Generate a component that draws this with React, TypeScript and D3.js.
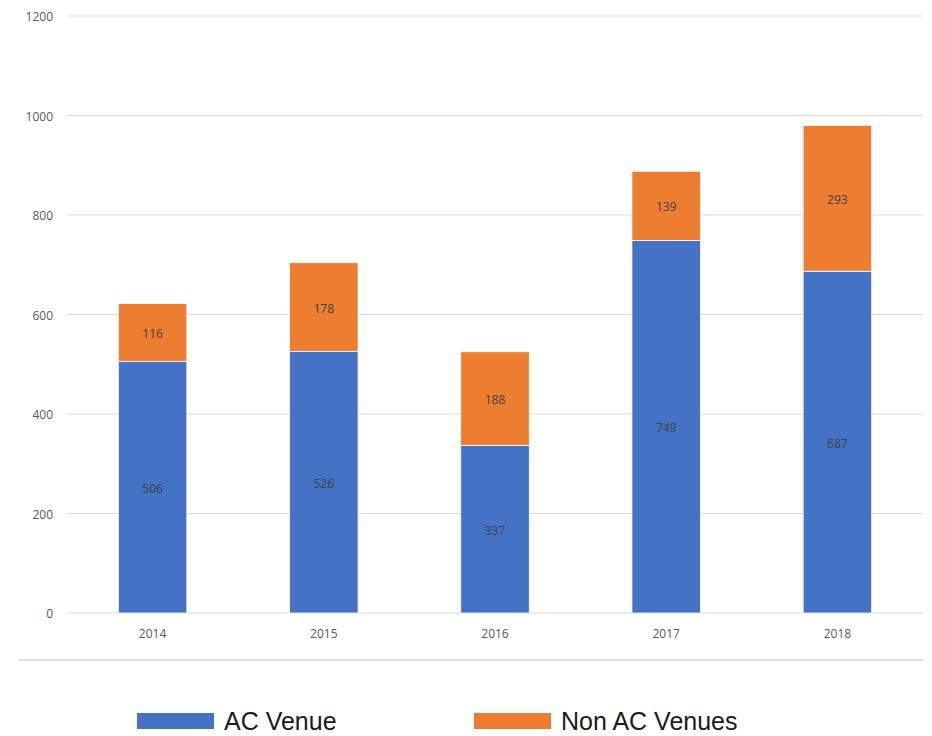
import React from "react";
import * as d3 from "d3";

const years = ["2014", "2015", "2016", "2017", "2018"];
const acVenue = [506, 526, 337, 749, 687];
const nonAcVenues = [116, 178, 188, 139, 293];
const yTicks = [0, 200, 400, 600, 800, 1000, 1200];
const seriesNames = ["AC Venue", "Non AC Venues"];
const colors = ["#4472C4", "#ED7D31"];

export default function App() {
  const W = 932, H = 736;
  const x = d3.scaleBand<string>().domain(years).range([67, 923]).paddingInner(0.6).paddingOuter(0.3);
  const y = d3.scaleLinear().domain([0, 1200]).range([613, 16]);
  const rows = years.map((yr, i) => ({ year: yr, ac: acVenue[i], non: nonAcVenues[i] }));
  const stack = d3.stack<any>().keys(["ac", "non"])(rows);
  const tickFont = "'Open Sans', 'Noto Sans', sans-serif";
  return (
    <svg width={W} height={H} style={{ position: "absolute", left: 0, top: 0 }}>
      <rect width={W} height={H} fill="#fff" />
      {yTicks.map((t) => (
        <g key={t}>
          <line x1={67} x2={923} y1={y(t)} y2={y(t)} stroke="#D9D9D9" strokeWidth={1} />
          <text x={53} y={y(t) + 1} dy="0.35em" textAnchor="end" fontSize={12} fill="#595959" fontFamily={tickFont}>{t}</text>
        </g>
      ))}
      {stack.map((s, si) => (
        <g key={si}>
          {s.map((d, i) => {
            const x0 = x(years[i])!;
            const yt = y(d[1]), yb = y(d[0]);
            return (
              <g key={i}>
                <rect x={x0} y={yt} width={x.bandwidth()} height={yb - yt} fill={colors[si]} stroke="#fff" strokeWidth={0.75} />
                <text x={x0 + x.bandwidth() / 2} y={(yt + yb) / 2 + 1.5} dy="0.35em" textAnchor="middle" fontSize={12} fill="#404040" fontFamily={tickFont}>{d[1] - d[0]}</text>
              </g>
            );
          })}
        </g>
      ))}
      {years.map((yr) => (
        <text key={yr} x={x(yr)! + x.bandwidth() / 2} y={633.5} dy="0.35em" textAnchor="middle" fontSize={12} fill="#595959" fontFamily={tickFont}>{yr}</text>
      ))}
      <line x1={18} x2={923} y1={660} y2={660} stroke="#D9D9D9" strokeWidth={1.5} />
      {seriesNames.map((n, i) => {
        const lx = i === 0 ? 137 : 474;
        return (
          <g key={n}>
            <rect x={lx} y={713} width={77} height={16} fill={colors[i]} />
            <text x={lx + 87} y={722} dy="0.33em" fontSize={25} fill="#1a1a1a" fontFamily="'Liberation Sans', Arial, sans-serif">{n}</text>
          </g>
        );
      })}
    </svg>
  );
}
